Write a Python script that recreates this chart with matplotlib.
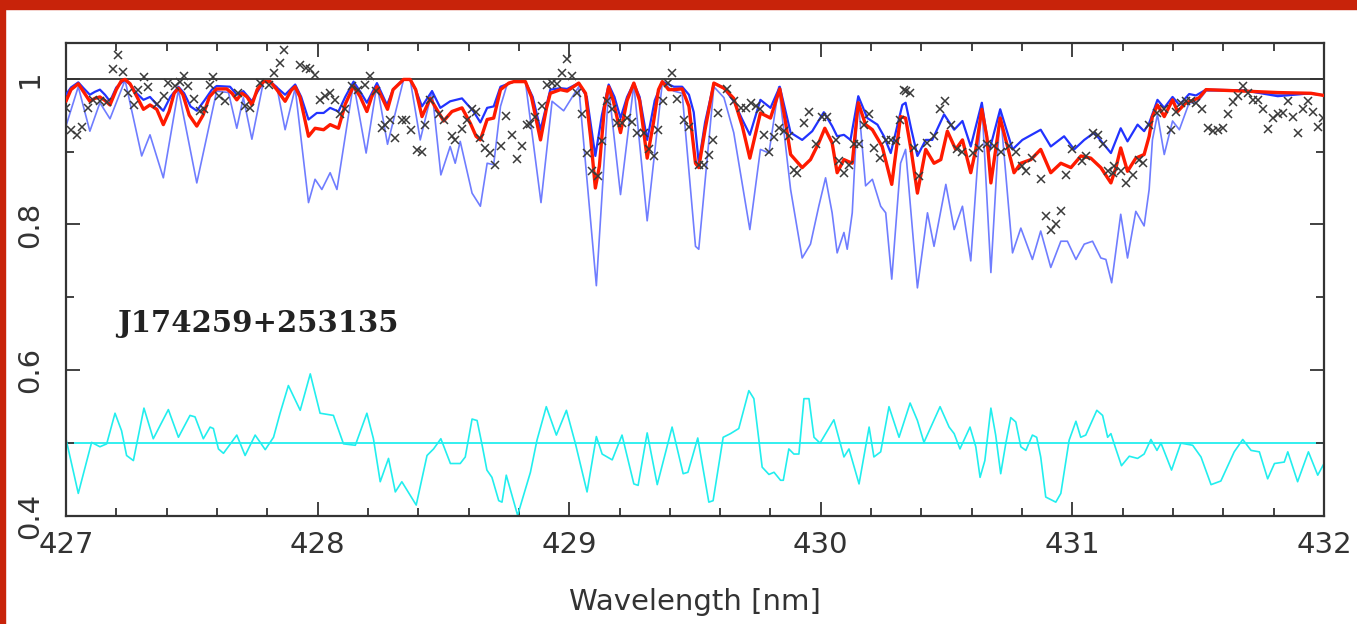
import matplotlib
matplotlib.use("Agg")
import matplotlib.pyplot as plt
import matplotlib.ticker as ticker
from matplotlib.patches import Rectangle

# model spectrum, thick red (best fit)
red_wl = [427.000, 427.020, 427.049, 427.070, 427.095, 427.115, 427.135, 427.155, 427.175, 427.200,
          427.220, 427.235, 427.255, 427.281, 427.308, 427.334, 427.361, 427.387, 427.410, 427.430,
          427.447, 427.465, 427.490, 427.520, 427.545, 427.570, 427.599, 427.639, 427.660, 427.679,
          427.699, 427.720, 427.739, 427.760, 427.785, 427.812, 427.838, 427.871, 427.895, 427.911,
          427.930, 427.964, 427.990, 428.024, 428.050, 428.083, 428.110, 428.143, 428.170, 428.196,
          428.215, 428.236, 428.255, 428.278, 428.300, 428.342, 428.368, 428.390, 428.415, 428.448,
          428.470, 428.501, 428.534, 428.574, 428.607, 428.630, 428.647, 428.674, 428.700, 428.727,
          428.760, 428.780, 428.826, 428.850, 428.886, 428.910, 428.925, 428.965, 428.992, 429.038,
          429.065, 429.085, 429.104, 429.120, 429.140, 429.157, 429.175, 429.204, 429.230, 429.257,
          429.280, 429.310, 429.335, 429.355, 429.370, 429.395, 429.416, 429.449, 429.476, 429.502,
          429.515, 429.540, 429.575, 429.615, 429.654, 429.688, 429.718, 429.760, 429.800, 429.837,
          429.860, 429.880, 429.926, 429.959, 429.992, 430.016, 430.045, 430.065, 430.092, 430.125,
          430.149, 430.178, 430.205, 430.244, 430.282, 430.317, 430.337, 430.360, 430.384, 430.417,
          430.450, 430.477, 430.503, 430.536, 430.563, 430.596, 430.616, 430.640, 430.660, 430.676,
          430.713, 430.742, 430.768, 430.795, 430.835, 430.874, 430.914, 430.954, 430.994, 431.034,
          431.073, 431.113, 431.153, 431.173, 431.192, 431.219, 431.252, 431.285, 431.305, 431.318,
          431.338, 431.365, 431.398, 431.418, 431.451, 431.484, 431.504, 431.531, 431.683, 431.816,
          431.948, 432.000]
red_flux = [0.969, 0.985, 0.993, 0.982, 0.969, 0.973, 0.975, 0.970, 0.964, 0.985,
            0.997, 0.999, 0.993, 0.976, 0.958, 0.964, 0.958, 0.937, 0.955, 0.980,
            0.987, 0.978, 0.950, 0.935, 0.950, 0.975, 0.986, 0.986, 0.980, 0.971,
            0.980, 0.975, 0.964, 0.985, 0.996, 0.996, 0.985, 0.969, 0.984, 0.989,
            0.975, 0.921, 0.932, 0.930, 0.937, 0.932, 0.965, 0.990, 0.975, 0.955,
            0.975, 0.989, 0.975, 0.958, 0.985, 0.999, 0.999, 0.985, 0.948, 0.973,
            0.960, 0.942, 0.955, 0.960, 0.939, 0.921, 0.916, 0.944, 0.946, 0.985,
            0.994, 0.996, 0.996, 0.975, 0.916, 0.960, 0.980, 0.985, 0.983, 0.994,
            0.980, 0.920, 0.850, 0.880, 0.960, 0.989, 0.970, 0.926, 0.970, 0.994,
            0.970, 0.891, 0.940, 0.985, 0.996, 0.985, 0.985, 0.986, 0.962, 0.884,
            0.878, 0.930, 0.994, 0.987, 0.973, 0.935, 0.891, 0.953, 0.946, 0.986,
            0.940, 0.896, 0.878, 0.889, 0.912, 0.932, 0.912, 0.871, 0.889, 0.884,
            0.967, 0.937, 0.930, 0.907, 0.855, 0.948, 0.946, 0.900, 0.843, 0.903,
            0.884, 0.889, 0.928, 0.903, 0.916, 0.871, 0.903, 0.958, 0.920, 0.857,
            0.946, 0.907, 0.871, 0.884, 0.889, 0.903, 0.871, 0.884, 0.878, 0.894,
            0.891, 0.878, 0.857, 0.878, 0.905, 0.873, 0.891, 0.896, 0.921, 0.948,
            0.964, 0.948, 0.971, 0.955, 0.967, 0.971, 0.974, 0.985, 0.983, 0.981,
            0.980, 0.977]

# weaker model, dark blue
bhi_wl = [427.000, 427.020, 427.049, 427.070, 427.095, 427.115, 427.135, 427.155, 427.175, 427.200,
          427.235, 427.260, 427.281, 427.308, 427.334, 427.360, 427.387, 427.415, 427.447, 427.470,
          427.495, 427.520, 427.550, 427.580, 427.599, 427.652, 427.679, 427.705, 427.739, 427.785,
          427.812, 427.838, 427.871, 427.911, 427.935, 427.964, 427.997, 428.024, 428.050, 428.083,
          428.110, 428.143, 428.170, 428.196, 428.236, 428.276, 428.300, 428.342, 428.368, 428.390,
          428.415, 428.455, 428.488, 428.527, 428.574, 428.620, 428.647, 428.674, 428.700, 428.727,
          428.780, 428.826, 428.855, 428.886, 428.925, 428.965, 428.992, 429.038, 429.070, 429.104,
          429.130, 429.157, 429.180, 429.204, 429.230, 429.257, 429.280, 429.310, 429.340, 429.370,
          429.416, 429.449, 429.476, 429.495, 429.515, 429.540, 429.575, 429.615, 429.654, 429.688,
          429.718, 429.760, 429.800, 429.837, 429.880, 429.926, 429.966, 430.012, 430.045, 430.065,
          430.092, 430.118, 430.149, 430.185, 430.225, 430.251, 430.278, 430.324, 430.337, 430.360,
          430.384, 430.417, 430.443, 430.490, 430.530, 430.563, 430.596, 430.640, 430.669, 430.713,
          430.762, 430.801, 430.874, 430.914, 430.967, 431.007, 431.047, 431.087, 431.153, 431.192,
          431.219, 431.259, 431.285, 431.305, 431.338, 431.365, 431.398, 431.425, 431.464, 431.491,
          431.531, 431.683, 431.816, 431.948, 432.000]
bhi_flux = [0.978, 0.988, 0.995, 0.987, 0.978, 0.982, 0.985, 0.978, 0.969, 0.988,
            0.999, 0.990, 0.980, 0.971, 0.975, 0.965, 0.956, 0.975, 0.989, 0.980,
            0.962, 0.956, 0.970, 0.985, 0.990, 0.989, 0.978, 0.983, 0.969, 0.996,
            0.996, 0.988, 0.978, 0.992, 0.975, 0.944, 0.953, 0.953, 0.960, 0.955,
            0.975, 0.996, 0.982, 0.967, 0.994, 0.964, 0.985, 0.999, 0.999, 0.985,
            0.962, 0.983, 0.960, 0.969, 0.973, 0.955, 0.940, 0.960, 0.962, 0.989,
            0.996, 0.996, 0.975, 0.930, 0.985, 0.987, 0.986, 0.994, 0.975, 0.894,
            0.950, 0.992, 0.975, 0.946, 0.975, 0.994, 0.975, 0.916, 0.970, 0.996,
            0.989, 0.989, 0.978, 0.954, 0.884, 0.940, 0.994, 0.987, 0.969, 0.944,
            0.923, 0.971, 0.960, 0.989, 0.926, 0.916, 0.928, 0.954, 0.935, 0.921,
            0.923, 0.916, 0.976, 0.946, 0.937, 0.921, 0.898, 0.964, 0.967, 0.930,
            0.894, 0.916, 0.916, 0.951, 0.930, 0.942, 0.907, 0.967, 0.900, 0.958,
            0.903, 0.916, 0.930, 0.907, 0.921, 0.903, 0.916, 0.926, 0.898, 0.932,
            0.914, 0.937, 0.928, 0.939, 0.971, 0.960, 0.975, 0.964, 0.979, 0.977,
            0.985, 0.984, 0.976, 0.980, 0.977]

# stronger model, light blue
blo_wl = [427.000, 427.049, 427.095, 427.135, 427.175, 427.235, 427.301, 427.334, 427.387, 427.447,
          427.520, 427.599, 427.646, 427.679, 427.705, 427.739, 427.785, 427.812, 427.838, 427.871,
          427.911, 427.964, 427.990, 428.017, 428.050, 428.077, 428.143, 428.193, 428.236, 428.278,
          428.342, 428.368, 428.408, 428.455, 428.490, 428.527, 428.547, 428.567, 428.614, 428.647,
          428.674, 428.700, 428.727, 428.753, 428.780, 428.826, 428.888, 428.932, 428.978, 429.038,
          429.108, 429.157, 429.204, 429.257, 429.310, 429.370, 429.416, 429.449, 429.502, 429.515,
          429.575, 429.615, 429.654, 429.718, 429.760, 429.794, 429.833, 429.880, 429.926, 429.959,
          429.992, 430.019, 430.045, 430.065, 430.092, 430.105, 430.125, 430.148, 430.178, 430.205,
          430.238, 430.258, 430.282, 430.317, 430.337, 430.384, 430.424, 430.450, 430.497, 430.530,
          430.563, 430.596, 430.640, 430.676, 430.713, 430.762, 430.795, 430.841, 430.874, 430.914,
          430.954, 430.980, 431.014, 431.047, 431.080, 431.113, 431.133, 431.156, 431.192, 431.219,
          431.252, 431.285, 431.305, 431.318, 431.338, 431.365, 431.398, 431.425, 431.464, 431.491,
          431.511, 431.531, 431.683, 431.816, 431.948, 432.000]
blo_flux = [0.935, 0.989, 0.928, 0.967, 0.945, 0.998, 0.894, 0.923, 0.864, 0.985,
            0.857, 0.983, 0.981, 0.932, 0.974, 0.917, 0.996, 0.996, 0.989, 0.930,
            0.987, 0.830, 0.862, 0.848, 0.871, 0.848, 0.994, 0.898, 0.992, 0.910,
            0.999, 0.999, 0.916, 0.983, 0.868, 0.907, 0.884, 0.914, 0.843, 0.825,
            0.884, 0.882, 0.962, 0.992, 0.996, 0.996, 0.830, 0.969, 0.956, 0.989,
            0.716, 0.987, 0.841, 0.992, 0.805, 0.994, 0.983, 0.980, 0.770, 0.766,
            0.989, 0.974, 0.926, 0.793, 0.903, 0.898, 0.989, 0.848, 0.754, 0.773,
            0.825, 0.864, 0.816, 0.761, 0.789, 0.766, 0.816, 0.974, 0.853, 0.862,
            0.825, 0.816, 0.725, 0.884, 0.903, 0.713, 0.816, 0.770, 0.855, 0.793,
            0.825, 0.750, 0.967, 0.734, 0.958, 0.761, 0.795, 0.752, 0.791, 0.741,
            0.777, 0.777, 0.752, 0.773, 0.777, 0.754, 0.752, 0.720, 0.814, 0.754,
            0.818, 0.798, 0.848, 0.916, 0.951, 0.896, 0.942, 0.930, 0.967, 0.967,
            0.974, 0.983, 0.983, 0.978, 0.979, 0.977]

# observed spectrum (crosses)
obs_wl = [427.000, 427.022, 427.042, 427.062, 427.089, 427.109, 427.135, 427.162, 427.186, 427.208,
          427.228, 427.248, 427.270, 427.288, 427.310, 427.327, 427.361, 427.390, 427.407, 427.433,
          427.453, 427.469, 427.487, 427.510, 427.533, 427.549, 427.573, 427.586, 427.610, 427.632,
          427.685, 427.712, 427.732, 427.772, 427.805, 427.825, 427.851, 427.867, 427.931, 427.955,
          427.971, 427.991, 428.010, 428.030, 428.050, 428.070, 428.090, 428.110, 428.136, 428.159,
          428.189, 428.209, 428.233, 428.256, 428.269, 428.289, 428.309, 428.335, 428.353, 428.371,
          428.395, 428.415, 428.428, 428.448, 428.481, 428.501, 428.534, 428.548, 428.574, 428.594,
          428.614, 428.631, 428.647, 428.667, 428.687, 428.707, 428.729, 428.750, 428.773, 428.793,
          428.813, 428.833, 428.846, 428.866, 428.892, 428.912, 428.932, 428.952, 428.972, 428.992,
          429.012, 429.032, 429.051, 429.071, 429.091, 429.114, 429.131, 429.151, 429.171, 429.191,
          429.211, 429.230, 429.250, 429.270, 429.297, 429.317, 429.336, 429.352, 429.374, 429.392,
          429.409, 429.429, 429.456, 429.476, 429.515, 429.535, 429.555, 429.572, 429.592, 429.628,
          429.654, 429.681, 429.701, 429.721, 429.741, 429.760, 429.774, 429.794, 429.814, 429.833,
          429.853, 429.873, 429.893, 429.906, 429.933, 429.953, 429.979, 430.006, 430.026, 430.059,
          430.072, 430.092, 430.112, 430.132, 430.152, 430.172, 430.191, 430.211, 430.235, 430.258,
          430.278, 430.298, 430.315, 430.331, 430.337, 430.355, 430.371, 430.390, 430.424, 430.450,
          430.474, 430.493, 430.516, 430.540, 430.563, 430.603, 430.629, 430.660, 430.689, 430.715,
          430.748, 430.775, 430.801, 430.815, 430.841, 430.874, 430.894, 430.914, 430.934, 430.954,
          430.974, 431.000, 431.040, 431.053, 431.080, 431.100, 431.120, 431.140, 431.160, 431.166,
          431.192, 431.212, 431.239, 431.265, 431.279, 431.305, 431.338, 431.365, 431.391, 431.411,
          431.431, 431.451, 431.471, 431.491, 431.517, 431.537, 431.557, 431.577, 431.597, 431.617,
          431.637, 431.657, 431.676, 431.696, 431.716, 431.736, 431.756, 431.776, 431.796, 431.816,
          431.836, 431.856, 431.876, 431.895, 431.915, 431.935, 431.955, 431.975, 431.995]
obs_flux = [0.960, 0.930, 0.923, 0.934, 0.960, 0.971, 0.969, 0.968, 1.013, 1.032,
            1.009, 0.980, 0.964, 0.985, 1.003, 0.988, 0.965, 0.976, 0.994, 0.990,
            0.995, 1.004, 0.990, 0.972, 0.956, 0.958, 0.992, 1.003, 0.976, 0.970,
            0.980, 0.962, 0.960, 0.994, 0.992, 1.008, 1.022, 1.040, 1.019, 1.015,
            1.013, 1.005, 0.971, 0.976, 0.981, 0.971, 0.951, 0.958, 0.990, 0.985,
            0.992, 1.004, 0.983, 0.932, 0.937, 0.944, 0.919, 0.944, 0.944, 0.929,
            0.902, 0.900, 0.936, 0.971, 0.951, 0.944, 0.921, 0.916, 0.931, 0.944,
            0.958, 0.954, 0.919, 0.905, 0.898, 0.882, 0.907, 0.949, 0.923, 0.890,
            0.908, 0.936, 0.938, 0.947, 0.962, 0.992, 0.994, 0.993, 1.008, 1.027,
            1.004, 0.980, 0.952, 0.898, 0.873, 0.866, 0.914, 0.969, 0.958, 0.939,
            0.939, 0.946, 0.940, 0.926, 0.926, 0.903, 0.894, 0.930, 0.969, 0.994,
            1.008, 0.972, 0.943, 0.934, 0.881, 0.882, 0.895, 0.916, 0.953, 0.986,
            0.969, 0.960, 0.960, 0.967, 0.962, 0.958, 0.923, 0.900, 0.920, 0.932,
            0.928, 0.921, 0.875, 0.870, 0.939, 0.954, 0.911, 0.947, 0.947, 0.916,
            0.887, 0.870, 0.882, 0.911, 0.911, 0.937, 0.951, 0.905, 0.891, 0.916,
            0.916, 0.914, 0.944, 0.984, 0.983, 0.980, 0.905, 0.866, 0.912, 0.921,
            0.958, 0.970, 0.937, 0.903, 0.900, 0.898, 0.905, 0.910, 0.907, 0.900,
            0.907, 0.900, 0.880, 0.873, 0.891, 0.862, 0.811, 0.793, 0.800, 0.818,
            0.868, 0.903, 0.887, 0.894, 0.926, 0.923, 0.910, 0.873, 0.871, 0.880,
            0.873, 0.857, 0.868, 0.889, 0.884, 0.937, 0.953, 0.958, 0.930, 0.955,
            0.967, 0.970, 0.969, 0.967, 0.958, 0.932, 0.928, 0.930, 0.932, 0.951,
            0.968, 0.976, 0.990, 0.980, 0.971, 0.971, 0.958, 0.931, 0.946, 0.952,
            0.953, 0.969, 0.947, 0.926, 0.958, 0.969, 0.955, 0.934, 0.946]

# residuals (shifted to 0.5)
res_wl = [427.000, 427.049, 427.102, 427.135, 427.162, 427.195, 427.221, 427.241, 427.268, 427.310,
          427.347, 427.407, 427.447, 427.493, 427.513, 427.546, 427.573, 427.586, 427.606, 427.626,
          427.679, 427.712, 427.752, 427.792, 427.825, 427.851, 427.884, 427.931, 427.971, 428.010,
          428.063, 428.103, 428.150, 428.196, 428.222, 428.249, 428.282, 428.309, 428.335, 428.392,
          428.435, 428.461, 428.490, 428.528, 428.567, 428.587, 428.614, 428.634, 428.653, 428.673,
          428.693, 428.720, 428.733, 428.750, 428.773, 428.795, 428.846, 428.872, 428.909, 428.949,
          428.989, 429.025, 429.071, 429.108, 429.131, 429.171, 429.210, 429.257, 429.274, 429.310,
          429.350, 429.409, 429.453, 429.472, 429.511, 429.555, 429.572, 429.612, 429.641, 429.674,
          429.714, 429.734, 429.767, 429.794, 429.814, 429.840, 429.851, 429.873, 429.893, 429.913,
          429.933, 429.953, 429.973, 429.997, 430.052, 430.092, 430.112, 430.152, 430.192, 430.211,
          430.238, 430.271, 430.311, 430.355, 430.384, 430.410, 430.474, 430.510, 430.530, 430.553,
          430.593, 430.616, 430.633, 430.652, 430.676, 430.695, 430.715, 430.735, 430.755, 430.775,
          430.795, 430.815, 430.841, 430.858, 430.874, 430.894, 430.934, 430.954, 430.987, 431.014,
          431.033, 431.053, 431.097, 431.120, 431.140, 431.153, 431.166, 431.195, 431.226, 431.259,
          431.285, 431.312, 431.336, 431.352, 431.394, 431.431, 431.478, 431.511, 431.551, 431.590,
          431.643, 431.677, 431.710, 431.743, 431.776, 431.803, 431.842, 431.856, 431.895, 431.938,
          431.975, 432.000]
res_flux = [0.506, 0.431, 0.501, 0.495, 0.499, 0.541, 0.517, 0.483, 0.476, 0.548,
            0.506, 0.546, 0.508, 0.538, 0.536, 0.506, 0.522, 0.520, 0.492, 0.486,
            0.511, 0.483, 0.511, 0.491, 0.508, 0.541, 0.579, 0.545, 0.595, 0.541,
            0.538, 0.499, 0.497, 0.541, 0.506, 0.447, 0.479, 0.433, 0.447, 0.415,
            0.483, 0.492, 0.506, 0.472, 0.472, 0.481, 0.533, 0.531, 0.499, 0.463,
            0.453, 0.421, 0.419, 0.456, 0.428, 0.401, 0.460, 0.504, 0.550, 0.511,
            0.545, 0.499, 0.433, 0.509, 0.485, 0.477, 0.511, 0.444, 0.442, 0.514,
            0.443, 0.522, 0.458, 0.460, 0.507, 0.419, 0.421, 0.508, 0.513, 0.520,
            0.572, 0.561, 0.467, 0.457, 0.460, 0.449, 0.449, 0.492, 0.485, 0.485,
            0.561, 0.561, 0.508, 0.500, 0.532, 0.481, 0.492, 0.444, 0.522, 0.481,
            0.488, 0.550, 0.508, 0.555, 0.531, 0.501, 0.550, 0.522, 0.513, 0.492,
            0.522, 0.495, 0.453, 0.476, 0.548, 0.511, 0.458, 0.499, 0.535, 0.529,
            0.495, 0.490, 0.511, 0.508, 0.481, 0.426, 0.419, 0.431, 0.504, 0.530,
            0.508, 0.511, 0.545, 0.538, 0.508, 0.513, 0.499, 0.469, 0.482, 0.479,
            0.485, 0.505, 0.490, 0.500, 0.463, 0.500, 0.497, 0.481, 0.443, 0.448,
            0.488, 0.505, 0.490, 0.488, 0.451, 0.472, 0.474, 0.488, 0.447, 0.488,
            0.456, 0.472]

star_name = "J174259+253135"
x_ticks = [427, 428, 429, 430, 431, 432]
y_ticks = [0.4, 0.6, 0.8, 1.0]
y_labels = ["0.4", "0.6", "0.8", "1"]

fig = plt.figure(figsize=(13.57, 6.24), dpi=100)
ax = fig.add_axes([0.0486, 0.1731, 0.9271, 0.758])

line_kw = dict(solid_joinstyle="round", solid_capstyle="round")
ax.axhline(1.0, color="#333333", linewidth=1.3, zorder=1)
ax.axhline(0.5, color="#22eeee", linewidth=1.3, zorder=1)
ax.plot(blo_wl, blo_flux, color="#6f7dff", linewidth=1.2, zorder=2, **line_kw)
ax.plot(bhi_wl, bhi_flux, color="#2233ff", linewidth=1.6, zorder=3, **line_kw)
ax.plot(red_wl, red_flux, color="#ff1a00", linewidth=2.4, zorder=4, **line_kw)
ax.plot(obs_wl, obs_flux, linestyle="none", marker="x", markersize=6,
        markeredgewidth=1.1, color="#3a3a3a", zorder=5)
ax.plot(res_wl, res_flux, color="#22eeee", linewidth=1.2, zorder=2, **line_kw)

ax.text(427.203, 0.664, star_name, fontsize=21, family="DejaVu Serif", fontweight="bold",
        color="#222222", ha="left", va="center")

ax.set_xlim(427, 432)
ax.set_ylim(0.4, 1.049)
ax.set_xticks(x_ticks)
ax.set_yticks(y_ticks)
ax.set_yticklabels(y_labels, rotation=90, va="center")
ax.xaxis.set_minor_locator(ticker.MultipleLocator(0.2))
ax.yaxis.set_minor_locator(ticker.MultipleLocator(0.1))
ax.tick_params(which="both", direction="in", top=True, right=True, color="#333333", width=1.3)
ax.tick_params(which="major", length=10, labelsize=21, labelcolor="#333333")
ax.tick_params(axis="x", which="major", pad=11)
ax.tick_params(axis="y", which="major", pad=16)
ax.tick_params(which="minor", length=5.5)
for s in ax.spines.values():
    s.set_color("#333333")
    s.set_linewidth(1.6)

ax.set_xlabel("Wavelength [nm]", fontsize=21, color="#333333", labelpad=21)

# red frame pieces at top and left
fig.patches.append(Rectangle((0, 1 - 9 / 624), 1, 9 / 624, transform=fig.transFigure,
                             color="#c8230a", zorder=10))
fig.patches.append(Rectangle((0, 0), 5 / 1357, 1, transform=fig.transFigure,
                             color="#c8230a", zorder=10))

fig.savefig("out.png", dpi=100)
